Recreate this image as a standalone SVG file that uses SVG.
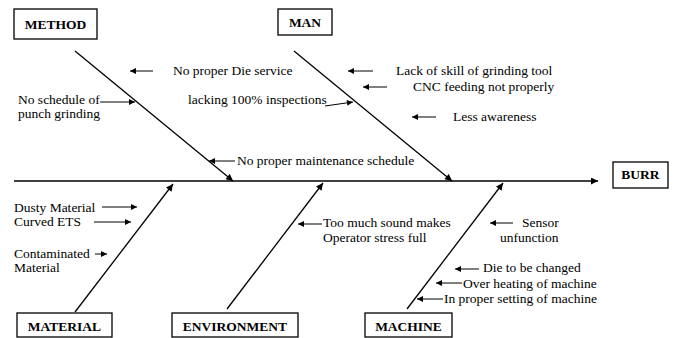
<svg xmlns="http://www.w3.org/2000/svg" width="675" height="338" viewBox="0 0 675 338">
<defs>
<marker id="ah" viewBox="0 0 10 10" refX="10" refY="5" markerWidth="7" markerHeight="6" markerUnits="userSpaceOnUse" orient="auto">
<path d="M0,0 L10,5 L0,10 z" fill="#000"/>
</marker>
<marker id="ahb" viewBox="0 0 10 10" refX="10" refY="5" markerWidth="9" markerHeight="7" markerUnits="userSpaceOnUse" orient="auto">
<path d="M0,0 L10,5 L0,10 z" fill="#000"/>
</marker>
</defs>
<style>
.box{fill:#fff;stroke:#000;stroke-width:1.3}
.lbl{font-family:"Liberation Serif","Times New Roman",serif;font-size:13.5px;font-weight:bold;fill:#000;text-anchor:middle}
.t{font-family:"Liberation Serif","Times New Roman",serif;font-size:13.5px;fill:#000}
.bone{stroke:#000;stroke-width:1.3;fill:none}
.a{stroke:#000;stroke-width:1;fill:none;marker-end:url(#ah)}
</style>
<rect width="675" height="338" fill="#fff"/>
<g id="connectors">
<line class="bone" x1="14" y1="181" x2="598" y2="181" stroke-width="1.6" marker-end="url(#ahb)"/>
<line class="bone" x1="75" y1="51" x2="233" y2="181" marker-end="url(#ahb)"/>
<line class="bone" x1="294" y1="51" x2="452" y2="181" marker-end="url(#ahb)"/>
<line class="bone" x1="75" y1="312" x2="173" y2="184" marker-end="url(#ahb)"/>
<line class="bone" x1="227" y1="309" x2="323" y2="183" marker-end="url(#ahb)"/>
<line class="bone" x1="407" y1="309" x2="503" y2="183" marker-end="url(#ahb)"/>
<line class="a" x1="153" y1="71" x2="130" y2="71"/>
<line class="a" x1="100" y1="102" x2="135" y2="102"/>
<line class="a" x1="325" y1="106" x2="353" y2="102"/>
<line class="a" x1="235" y1="161" x2="209" y2="161"/>
<line class="a" x1="373" y1="71" x2="348" y2="71"/>
<line class="a" x1="387" y1="87" x2="363" y2="87"/>
<line class="a" x1="436" y1="117" x2="412" y2="117"/>
<line class="a" x1="102" y1="207" x2="137" y2="207"/>
<line class="a" x1="94" y1="222" x2="131" y2="222"/>
<line class="a" x1="95" y1="254" x2="107" y2="254"/>
<line class="a" x1="322" y1="224" x2="298" y2="224"/>
<line class="a" x1="513" y1="223" x2="490" y2="223"/>
<line class="a" x1="479" y1="269" x2="455" y2="269"/>
<line class="a" x1="462" y1="283" x2="436" y2="283"/>
<line class="a" x1="443" y1="299" x2="417" y2="299"/>
</g>
<g id="method"><rect class="box" x="14" y="9" width="83" height="30"/><text class="lbl" x="55.5" y="29">METHOD</text></g>
<g id="man"><rect class="box" x="278" y="9" width="54" height="26"/><text class="lbl" x="305" y="27">MAN</text></g>
<g id="burr"><rect class="box" x="613" y="162" width="55" height="26"/><text class="lbl" x="640.5" y="179">BURR</text></g>
<g id="material"><rect class="box" x="17" y="313" width="95" height="24"/><text class="lbl" x="64.5" y="331">MATERIAL</text></g>
<g id="environment"><rect class="box" x="172" y="313" width="126" height="24"/><text class="lbl" x="235" y="331">ENVIRONMENT</text></g>
<g id="machine"><rect class="box" x="365" y="313" width="87" height="24"/><text class="lbl" x="408.5" y="331">MACHINE</text></g>
<g id="causes">
<text class="t" x="173" y="75">No proper Die service</text>
<text class="t" x="18" y="104">No schedule of</text>
<text class="t" x="18" y="118">punch grinding</text>
<text class="t" x="188" y="104">lacking 100% inspections</text>
<text class="t" x="237" y="165">No proper maintenance schedule</text>
<text class="t" x="396" y="75">Lack of skill of grinding tool</text>
<text class="t" x="413" y="91">CNC feeding not properly</text>
<text class="t" x="453" y="121">Less awareness</text>
<text class="t" x="14" y="212">Dusty Material</text>
<text class="t" x="14" y="226">Curved ETS</text>
<text class="t" x="14" y="258">Contaminated</text>
<text class="t" x="14" y="272">Material</text>
<text class="t" x="323" y="227">Too much sound makes</text>
<text class="t" x="323" y="242">Operator stress full</text>
<text class="t" x="522" y="227">Sensor</text>
<text class="t" x="500" y="242">unfunction</text>
<text class="t" x="483" y="272">Die to be changed</text>
<text class="t" x="463" y="288">Over heating of machine</text>
<text class="t" x="444" y="303">In proper setting of machine</text>
</g>
</svg>
